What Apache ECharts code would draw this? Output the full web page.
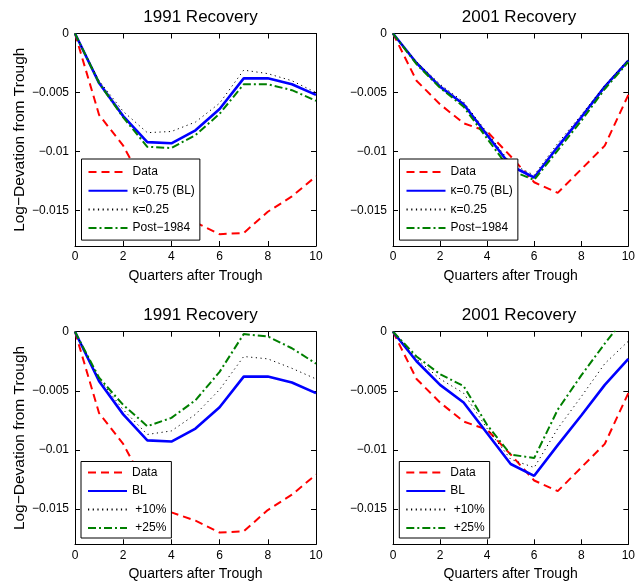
<!DOCTYPE html>
<html>
<head>
<meta charset="utf-8">
<script src="https://cdn.jsdelivr.net/npm/echarts@6/dist/echarts.min.js"></script>
<style>
html, body { margin: 0; padding: 0; background: #fff; }
#main { width: 638px; height: 588px; }
</style>
</head>
<body>
<div id="main"></div>
<script>
// quarters after trough
var quarters = [0, 1, 2, 3, 4, 5, 6, 7, 8, 9, 10];

// 1991 recovery
var data1991     = [0, -0.0069, -0.0095, -0.0133, -0.0153, -0.0160, -0.0170, -0.0169, -0.0151, -0.0138, -0.0121];
var bl1991       = [0, -0.0042, -0.0070, -0.0092, -0.0093, -0.0082, -0.0064, -0.0038, -0.0038, -0.0043, -0.0052];
var k25_1991     = [0, -0.0040, -0.0066, -0.0084, -0.0083, -0.0075, -0.0059, -0.0031, -0.0034, -0.0040, -0.0050];
var post84_1991  = [0, -0.0042, -0.0071, -0.0096, -0.0097, -0.0086, -0.0068, -0.0043, -0.0043, -0.0048, -0.0057];
var plus10_1991  = [0, -0.0040, -0.0066, -0.0087, -0.0084, -0.0070, -0.0049, -0.0021, -0.0023, -0.0031, -0.0040];
var plus25_1991  = [0, -0.0039, -0.0062, -0.0080, -0.0073, -0.0058, -0.0034, -0.0002, -0.0004, -0.0014, -0.0027];

// 2001 recovery
var data2001     = [0, -0.0040, -0.0060, -0.0076, -0.0083, -0.0104, -0.0126, -0.0135, -0.0115, -0.0095, -0.0052];
var bl2001       = [0, -0.0025, -0.0045, -0.0060, -0.0086, -0.0112, -0.0122, -0.0096, -0.0071, -0.0045, -0.0023];
var k25_2001     = [0, -0.0024, -0.0043, -0.0058, -0.0084, -0.0110, -0.0120, -0.0093, -0.0069, -0.0044, -0.0022];
var post84_2001  = [0, -0.0026, -0.0046, -0.0062, -0.0089, -0.0116, -0.0124, -0.0099, -0.0074, -0.0047, -0.0024];
var plus10_2001  = [0, -0.0023, -0.0040, -0.0052, -0.0082, -0.0108, -0.0115, -0.0082, -0.0055, -0.0027, -0.0008];
var plus25_2001  = [0, -0.0021, -0.0036, -0.0046, -0.0079, -0.0104, -0.0107, -0.0066, -0.0037, -0.0010, 0.0015];

// axis ticks
var yTicks = [0, -0.005, -0.01, -0.015];
var yTickLabels = ['0', '\u22120.005', '\u22120.01', '\u22120.015'];
var xTicks = [0, 2, 4, 6, 8, 10];

var FONT = '"Liberation Sans", Arial, Helvetica, sans-serif';

(function(){
    var myChart = echarts.init(document.getElementById('main'));

    var grids = [
        { left: 75,  top: 33.5,  width: 241, height: 212.5 },
        { left: 393, top: 33.5,  width: 242, height: 212.5 },
        { left: 75,  top: 331.7, width: 241, height: 212.6 },
        { left: 393, top: 331.7, width: 242, height: 212.6 }
    ];
    var titles = ['1991 Recovery', '2001 Recovery', '1991 Recovery', '2001 Recovery'];

    // line looks, MATLAB style
    var styles = {
        data:    { color: '#ff0000', width: 2,   type: [8, 5] },
        bl:      { color: '#0000ff', width: 2.6, type: 'solid' },
        dot:     { color: '#000000', width: 1,   type: [1.2, 3.5] },
        dashdot: { color: '#007f00', width: 2,   type: [8, 3, 2, 3] }
    };

    var panels = [
        [['Data', data1991, 'data'], ['\u03ba=0.75 (BL)', bl1991, 'bl'], ['\u03ba=0.25', k25_1991, 'dot'], ['Post\u22121984', post84_1991, 'dashdot']],
        [['Data', data2001, 'data'], ['\u03ba=0.75 (BL)', bl2001, 'bl'], ['\u03ba=0.25', k25_2001, 'dot'], ['Post\u22121984', post84_2001, 'dashdot']],
        [['Data', data1991, 'data'], ['BL', bl1991, 'bl'], [' +10%', plus10_1991, 'dot'], [' +25%', plus25_1991, 'dashdot']],
        [['Data', data2001, 'data'], ['BL', bl2001, 'bl'], [' +10%', plus10_2001, 'dot'], [' +25%', plus25_2001, 'dashdot']]
    ];

    var legendPos = [
        { left: 81.5,  top: 159,   padding: [7, 5, 6, 6], gap: 6.7 },
        { left: 399.5, top: 159,   padding: [7, 5, 6, 6], gap: 6.7 },
        { left: 81,    top: 461.5, padding: [5, 5, 4, 6], gap: 6.5 },
        { left: 399.3, top: 461.5, padding: [5, 5, 4, 6], gap: 6.5 }
    ];

    function yLabel(v){
        var best = 0;
        for(var k = 1; k < yTicks.length; k++){
            if(Math.abs(yTicks[k] - v) < Math.abs(yTicks[best] - v)) best = k;
        }
        return yTickLabels[best];
    }

    var axisLine = { show: true, onZero: false, lineStyle: { color: '#000', width: 1 } };
    var xAxes = [], yAxes = [], series = [], legends = [], titleOpts = [];

    grids.forEach(function(g, i){
        var isLeft = (i % 2 === 0);
        // bottom x axis
        xAxes.push({
            gridIndex: i, type: 'value', position: 'bottom', min: 0, max: 10, interval: 2,
            axisLine: axisLine,
            axisTick: { show: true, inside: true, length: 5, lineStyle: { color: '#000' } },
            axisLabel: { show: true, margin: 5, color: '#000', fontSize: 12, fontFamily: FONT,
                formatter: function(v){ return xTicks.indexOf(v) >= 0 ? String(v) : ''; } },
            splitLine: { show: false },
            name: 'Quarters after Trough', nameLocation: 'middle', nameGap: 23,
            nameTextStyle: { color: '#000', fontSize: 14, fontFamily: FONT }
        });
        // top x axis (box)
        xAxes.push({
            gridIndex: i, type: 'value', position: 'top', min: 0, max: 10, interval: 2,
            axisLine: axisLine,
            axisTick: { show: true, inside: true, length: 5, lineStyle: { color: '#000' } },
            axisLabel: { show: false }, splitLine: { show: false }
        });
        // left y axis
        yAxes.push({
            gridIndex: i, type: 'value', position: 'left', min: -0.018, max: 0,
            axisLine: axisLine,
            axisTick: { show: true, inside: true, length: 5, customValues: yTicks, lineStyle: { color: '#000' } },
            axisLabel: { show: true, margin: 6, color: '#000', fontSize: 12, fontFamily: FONT,
                customValues: yTicks, formatter: yLabel },
            splitLine: { show: false },
            name: isLeft ? 'Log\u2212Devation from Trough' : '',
            nameLocation: 'middle', nameGap: 43, nameRotate: 90,
            nameTextStyle: { color: '#000', fontSize: 15.5, fontFamily: FONT }
        });
        // right y axis (box)
        yAxes.push({
            gridIndex: i, type: 'value', position: 'right', min: -0.018, max: 0,
            axisLine: axisLine,
            axisTick: { show: true, inside: true, length: 5, customValues: yTicks, lineStyle: { color: '#000' } },
            axisLabel: { show: false, customValues: yTicks }, splitLine: { show: false }
        });

        titleOpts.push({
            text: titles[i], left: g.left + g.width / 2, top: g.top - 30, textAlign: 'center',
            textStyle: { color: '#000', fontWeight: 'normal', fontSize: 17, fontFamily: FONT }
        });

        var names = [];
        panels[i].forEach(function(p){
            var st = styles[p[2]];
            names.push(p[0]);
            series.push({
                name: p[0], type: 'line', xAxisIndex: 2 * i, yAxisIndex: 2 * i,
                data: quarters.map(function(q, j){ return [q, p[1][j]]; }),
                symbol: 'none', showSymbol: false, clip: true,
                itemStyle: { color: st.color },
                lineStyle: { color: st.color, width: st.width, type: st.type }
            });
        });

        var lp = legendPos[i];
        legends.push({
            orient: 'vertical', left: lp.left, top: lp.top,
            data: names, selectedMode: false,
            backgroundColor: '#fff', borderColor: '#000', borderWidth: 1, borderRadius: 0,
            padding: lp.padding, itemWidth: 39, itemHeight: 12, itemGap: lp.gap,
            itemStyle: { opacity: 0 },
            textStyle: { color: '#000', fontSize: 12, fontFamily: FONT }
        });
    });

    myChart.setOption({
        animation: false,
        backgroundColor: '#fff',
        title: titleOpts,
        grid: grids,
        xAxis: xAxes,
        yAxis: yAxes,
        legend: legends,
        series: series
    });
})();
</script>
</body>
</html>
